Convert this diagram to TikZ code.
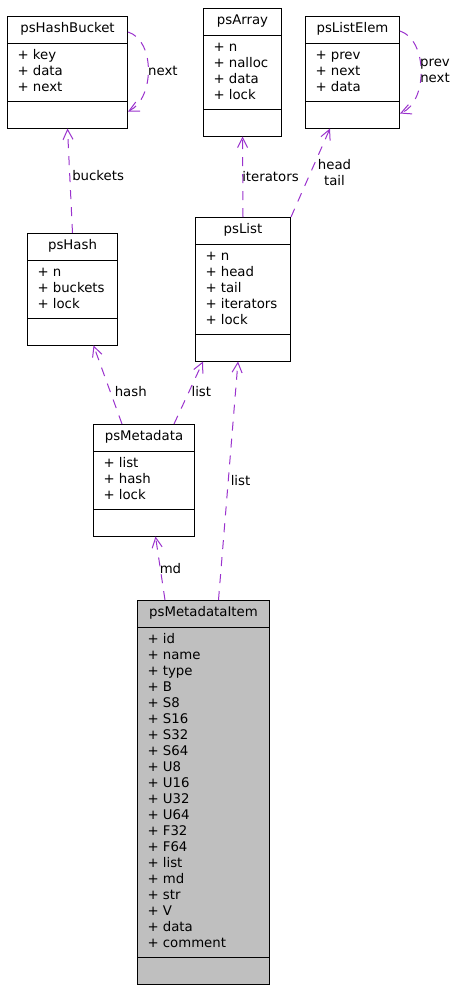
\documentclass[tikz,border=0pt]{standalone}
\usepackage{fontspec}
\setmainfont{DejaVu Sans}
\usetikzlibrary{shapes.multipart,arrows.meta,calc}

\definecolor{edgepurple}{HTML}{9A32CD}
\definecolor{itemgray}{HTML}{BFBFBF}

\begin{document}
\begin{tikzpicture}[x=1pt, y=-1pt,
    font=\fontsize{13.3}{16}\selectfont,
    umlclass/.style={draw, line width=1pt, anchor=north west,
        rectangle split, rectangle split parts=3,
        rectangle split part align={center,left,left}, align=left,
        inner xsep=10pt, inner ysep=4.75pt},
    uses/.style={draw=edgepurple, line width=1pt, dash pattern=on 9pt off 8pt,
        -{Straight Barb[length=10pt,width=10pt]}},
    lbl/.style={inner sep=0pt, anchor=west}]
    \useasboundingbox (0,0) rectangle (460,991);

    % the classes
    \node[umlclass, minimum width=120pt] (hashbucket) at (7,16)
        {\strut psHashBucket
         \nodepart{two}\strut + key\\ + data\\ + next\strut
         \nodepart{three}\strut};
    \node[umlclass, minimum width=78pt] (array) at (203,8)
        {\strut psArray
         \nodepart{two}\strut + n\\ + nalloc\\ + data\\ + lock\strut
         \nodepart{three}\strut};
    \node[umlclass, minimum width=94pt] (listelem) at (305,16)
        {\strut psListElem
         \nodepart{two}\strut + prev\\ + next\\ + data\strut
         \nodepart{three}\strut};
    \node[umlclass, minimum width=90pt] (hash) at (27,233)
        {\strut psHash
         \nodepart{two}\strut + n\\ + buckets\\ + lock\strut
         \nodepart{three}\strut};
    \node[umlclass, minimum width=95pt] (list) at (195,217)
        {\strut psList
         \nodepart{two}\strut + n\\ + head\\ + tail\\ + iterators\\ + lock\strut
         \nodepart{three}\strut};
    \node[umlclass, minimum width=101pt] (metadata) at (93,424)
        {\strut psMetadata
         \nodepart{two}\strut + list\\ + hash\\ + lock\strut
         \nodepart{three}\strut};
    \node[umlclass, minimum width=132pt, fill=itemgray] (item) at (137,600)
        {\strut psMetadataItem
         \nodepart{two}\strut + id\\ + name\\ + type\\ + B\\ + S8\\ + S16\\ + S32\\
            + S64\\ + U8\\ + U16\\ + U32\\ + U64\\ + F32\\ + F64\\ + list\\ + md\\
            + str\\ + V\\ + data\\ + comment\strut
         \nodepart{three}\strut};

    % self references
    \draw[uses] ($(hashbucket.north east)+(0,16)$) .. controls (155,40) and (155,98)
        .. ($(hashbucket.south east)+(0,-17)$);
    \node[lbl] (lblnext) at (148,71) {next};
    \draw[uses] ($(listelem.north east)+(0,15)$) .. controls (428,40) and (428,102)
        .. ($(listelem.south east)+(0,-15)$);
    \node[align=center, inner sep=0pt] (lblprevnext) at (435,71) {prev\\next};

    % members
    \draw[uses] (hash.north) -- (hashbucket.south)
        node[lbl, pos=.55, xshift=2pt] {buckets};
    \draw[uses] (list.north) -- (array.south)
        node[lbl, pos=.5, xshift=-1pt] {iterators};
    \draw[uses] (list.north east) -- ($(listelem.south west)+(25,0)$)
        node[align=center, inner sep=0pt, pos=.5, xshift=24pt] {head\\tail};
    \draw[uses] ($(metadata.north west)+(29,0)$) -- ($(hash.south)+(21,0)$)
        node[lbl, pos=.41, xshift=4pt] {hash};
    \draw[uses] ($(metadata.north east)+(-21,0)$) -- ($(list.south west)+(8,0)$)
        node[lbl, pos=.52, xshift=2pt] {list};
    \draw[uses] ($(item.north)+(15,0)$) -- ($(list.south)+(-5,0)$)
        node[lbl, pos=.5, xshift=2pt] {list};
    \draw[uses] ($(item.north west)+(28,0)$) -- ($(metadata.south)+(11.5,0)$)
        node[lbl, pos=.5, xshift=-1pt] {md};
\end{tikzpicture}
\end{document}
